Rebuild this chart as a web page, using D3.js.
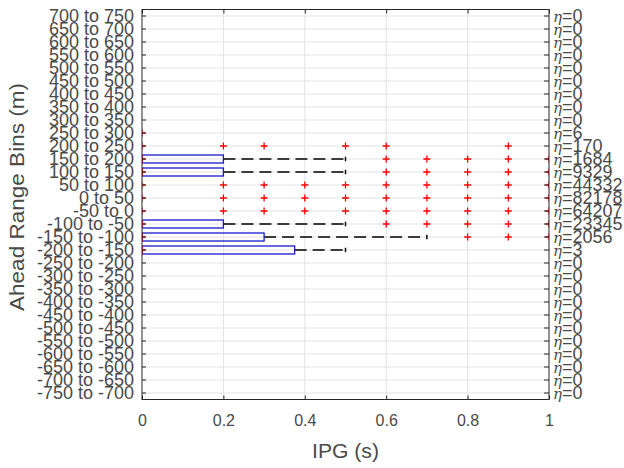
<!DOCTYPE html>
<html><head><meta charset="utf-8">
<script src="https://cdn.jsdelivr.net/npm/d3@7"></script>
<style>
body{margin:0;background:#fff}
svg{display:block}
text{font-family:"Liberation Sans",Arial,sans-serif;fill:#4a4a4a}
</style></head><body>
<svg id="c" width="624" height="468"></svg>
<script>
// Categories listed top to bottom
const categories = ["700 to 750","650 to 700","600 to 650","550 to 600","500 to 550","450 to 500","400 to 450","350 to 400","300 to 350","250 to 300","200 to 250","150 to 200","100 to 150","50 to 100","0 to 50","-50 to 0","-100 to -50","-150 to -100","-200 to -150","-250 to -200","-300 to -250","-350 to -300","-400 to -350","-450 to -400","-500 to -450","-550 to -500","-600 to -550","-650 to -600","-700 to -650","-750 to -700"];
const counts = [0,0,0,0,0,0,0,0,0,6,170,1684,9329,44332,82178,64207,23345,2056,3,0,0,0,0,0,0,0,0,0,0,0];

// Box statistics (IPG, s)
const boxRows = ["150 to 200","100 to 150","-100 to -50","-150 to -100","-200 to -150"];
const q1 = [0,0,0,0,0];
const medians = [0,0,0,0,0];
const q3 = [0.2,0.2,0.2,0.3,0.375];
const whiskerLow = [0,0,0,0,0];
const whiskerHigh = [0.5,0.5,0.5,0.7,0.5];

// Outliers
const outlierRows = ["250 to 300","200 to 250","150 to 200","100 to 150","50 to 100","0 to 50","-50 to 0","-100 to -50","-150 to -100","-200 to -150"];
const outlierValues = [
  [0],
  [0,0.2,0.3,0.5,0.6,0.9],
  [0,0.6,0.7,0.8,0.9,1.0],
  [0,0.6,0.7,0.8,0.9,1.0],
  [0,0.2,0.3,0.4,0.5,0.6,0.7,0.8,0.9,1.0],
  [0,0.2,0.3,0.4,0.5,0.6,0.7,0.8,0.9,1.0],
  [0,0.2,0.3,0.4,0.5,0.6,0.7,0.8,0.9,1.0],
  [0,0.6,0.7,0.8,0.9,1.0],
  [0,0.8,0.9,1.0],
  [0]
];
const xTicks = [0,0.2,0.4,0.6,0.8,1];

const L = 142, R = 549, T = 9.5, B = 399.5;
const svg = d3.select("#c");
const x = d3.scaleLinear().domain([0,1]).range([L,R]);
const y = d3.scaleBand().domain(categories).range([T,B]);
const yc = c => y(c) + y.bandwidth()/2;
const axisColor = "#262626";
const gridColor = "#e3e3e3";

// grid
svg.append("g").selectAll("line").data(categories).join("line")
  .attr("x1",L).attr("x2",R).attr("y1",d=>yc(d)).attr("y2",d=>yc(d))
  .attr("stroke",gridColor).attr("stroke-width",1);
svg.append("g").selectAll("line").data(xTicks.slice(1,-1)).join("line")
  .attr("x1",d=>x(d)).attr("x2",d=>x(d)).attr("y1",T).attr("y2",B)
  .attr("stroke",gridColor).attr("stroke-width",1);

// clip
svg.append("defs").append("clipPath").attr("id","clip").append("rect")
  .attr("x",L).attr("y",T).attr("width",R-L).attr("height",B-T);

const plot = svg.append("g").attr("clip-path","url(#clip)");

// whiskers and boxes
boxRows.forEach((c,i)=>{
  const cy = yc(c);
  plot.append("line").attr("x1",x(q3[i])).attr("x2",x(whiskerHigh[i])).attr("y1",cy).attr("y2",cy)
    .attr("stroke","#000").attr("stroke-width",1.4).attr("stroke-dasharray","12,6");
  plot.append("line").attr("x1",x(whiskerHigh[i])).attr("x2",x(whiskerHigh[i])).attr("y1",cy-2.2).attr("y2",cy+2.2)
    .attr("stroke","#000").attr("stroke-width",1.4);
  plot.append("rect").attr("x",x(q1[i])).attr("y",cy-4).attr("width",x(q3[i])-x(q1[i])).attr("height",8)
    .attr("fill","none").attr("stroke","#1a1acc").attr("stroke-width",1.3);
  plot.append("line").attr("x1",x(medians[i])).attr("x2",x(medians[i])).attr("y1",cy-4).attr("y2",cy+4)
    .attr("stroke","#ff0000").attr("stroke-width",1.3);
});

// outliers
outlierRows.forEach((c,i)=>{
  const cy = yc(c);
  outlierValues[i].forEach(v=>{
    const cx = x(v), s = 3.5;
    plot.append("path").attr("d",`M${cx-s},${cy}H${cx+s}M${cx},${cy-s}V${cy+s}`)
      .attr("stroke","#ff0000").attr("stroke-width",1.3).attr("fill","none");
  });
});

// axes
function styleAxis(g){
  g.attr("font-family",null).attr("font-size",null);
  g.select(".domain").remove();
  g.selectAll(".tick line").attr("stroke",axisColor).attr("stroke-width",1);
}
const gx = svg.append("g").attr("transform",`translate(0,${B})`)
  .call(d3.axisBottom(x).tickValues(xTicks).tickSize(-4).tickPadding(15).tickFormat(d3.format("")));
styleAxis(gx);
gx.selectAll("text").attr("fill","#4a4a4a").style("font-size","16px");

const gt = svg.append("g").attr("transform",`translate(0,${T})`)
  .call(d3.axisTop(x).tickValues(xTicks).tickSize(-4).tickFormat(""));
styleAxis(gt);

const gy = svg.append("g").attr("transform",`translate(${L},0)`)
  .call(d3.axisLeft(y).tickSize(-4).tickPadding(8));
styleAxis(gy);
gy.selectAll("text").attr("fill","#4a4a4a").style("font-size","18px").attr("dy","0.36em");

const gr = svg.append("g").attr("transform",`translate(${R},0)`)
  .call(d3.axisRight(y).tickSize(-5).tickFormat(""));
styleAxis(gr);
gr.selectAll(".tick").each(function(d){
  const i = categories.indexOf(d);
  const t = d3.select(this).append("text").attr("x",4).attr("dy","0.36em").attr("fill","#4a4a4a").style("font-size","18px");
  t.append("tspan").text("\u03B7").style("font-style","italic").style("font-size","15px").attr("font-family","DejaVu Serif");
  t.append("tspan").text("=" + counts[i]);
});

// frame
svg.append("rect").attr("x",L).attr("y",T).attr("width",R-L).attr("height",B-T)
  .attr("fill","none").attr("stroke",axisColor).attr("stroke-width",1);

// titles
svg.append("text").attr("x",(L+R)/2).attr("y",458).attr("text-anchor","middle")
  .style("font-size","20px").attr("textLength",67).attr("lengthAdjust","spacingAndGlyphs").text("IPG (s)");
svg.append("text").attr("transform",`translate(24,197) rotate(-90)`).attr("text-anchor","middle")
  .style("font-size","21px").attr("textLength",228).attr("lengthAdjust","spacingAndGlyphs").text("Ahead Range Bins (m)");
</script>
</body></html>
